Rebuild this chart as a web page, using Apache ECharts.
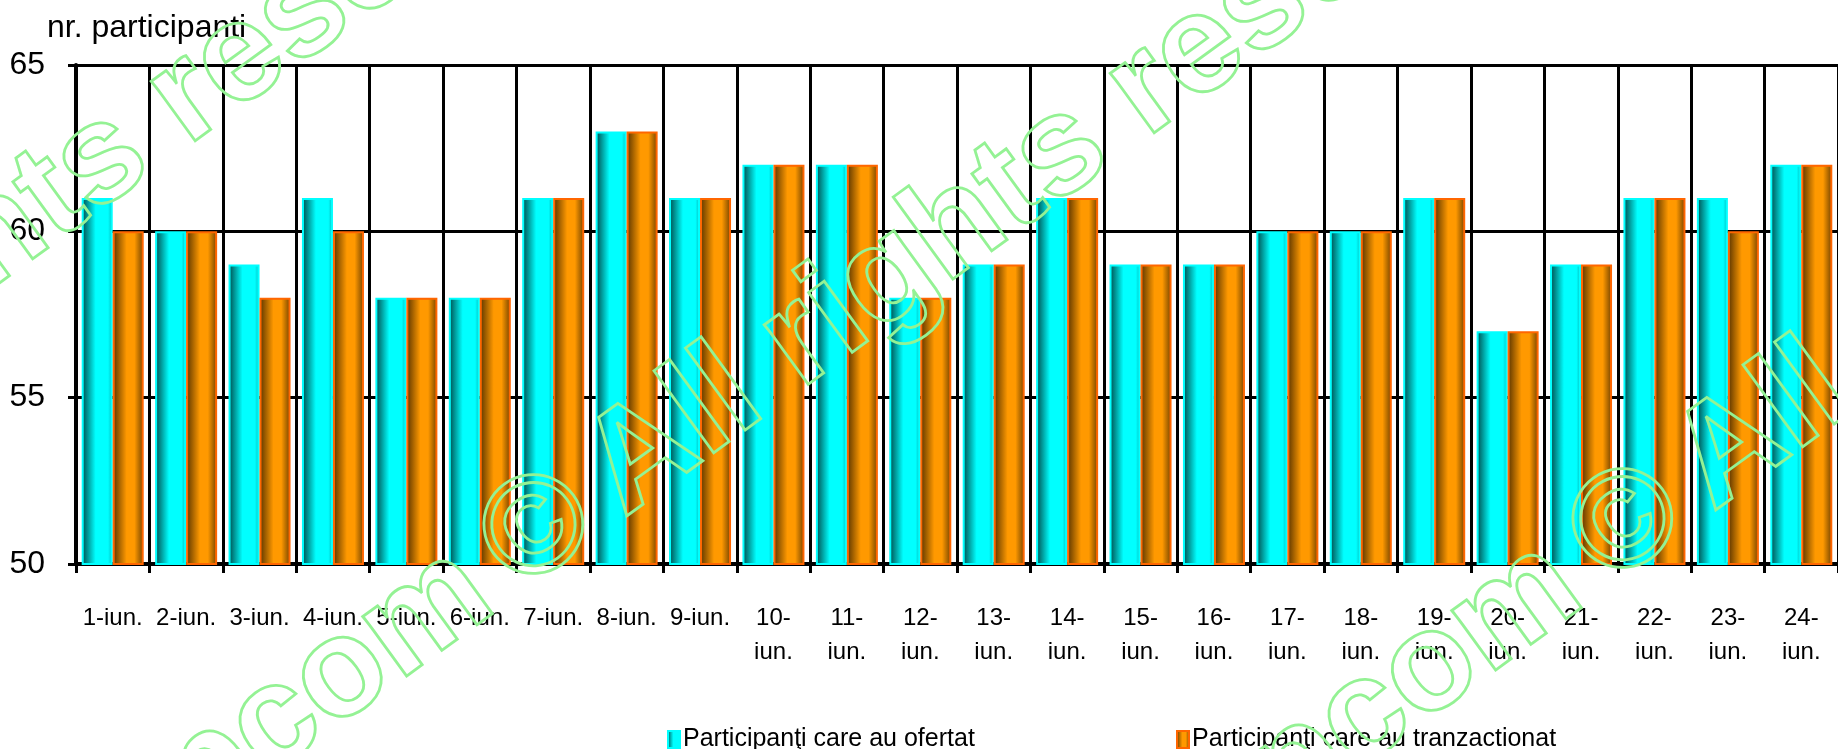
<!DOCTYPE html>
<html>
<head>
<meta charset="utf-8">
<script src="https://cdn.jsdelivr.net/npm/echarts@6/dist/echarts.min.js"></script>
<style>
html,body{margin:0;padding:0;background:#fff;}
#chart{width:1838px;height:749px;}
</style>
</head>
<body>
<div id="chart"></div>
<script>
const categories = ['1-iun.','2-iun.','3-iun.','4-iun.','5-iun.','6-iun.','7-iun.','8-iun.','9-iun.','10-iun.','11-iun.','12-iun.','13-iun.','14-iun.','15-iun.','16-iun.','17-iun.','18-iun.','19-iun.','20-iun.','21-iun.','22-iun.','23-iun.','24-iun.'];
const ofertat =      [61,60,59,61,58,58,61,63,61,62,62,58,59,61,59,59,60,60,61,57,59,61,61,62];
const tranzactionat = [60,60,58,60,58,58,61,63,61,62,62,58,59,61,59,59,60,60,61,57,59,61,60,62];
const yTicks = [50,55,60,65];
const seriesNames = ['Participanţi care au ofertat','Participanţi care au tranzactionat'];
const axisTitle = 'nr. participanti';
const watermark = ['opcom', '©', 'All rights reserved'];

const regular = '"Liberation Sans",Arial,sans-serif';

const cyanGrad = new echarts.graphic.LinearGradient(0,0,1,0,[
  {offset:0,color:'#00E5E5'},
  {offset:0.06,color:'#006060'},
  {offset:0.45,color:'#00FFFF'},
  {offset:0.85,color:'#00FFFF'},
  {offset:1,color:'#00BABA'}
]);
const orangeGrad = new echarts.graphic.LinearGradient(0,0,1,0,[
  {offset:0,color:'#573300'},
  {offset:0.45,color:'#FF9900'},
  {offset:0.7,color:'#FF9900'},
  {offset:1,color:'#704100'}
]);

function wmGroup(cx, cy){
  const F = 140;
  const st = function(t, align){ return {text:t, font:'bold '+F+'px '+regular, fill:'none', stroke:'#94F294', lineWidth:2.8, textAlign:align, textVerticalAlign:'middle'}; };
  return {
    type:'group', x:cx, y:cy, rotation: 36*Math.PI/180, z:100, silent:true,
    children:[
      {type:'text', z:100, x:-0.55*F, y:0, style:st(watermark[0],'right')},
      {type:'text', z:100, x:0, y:0, style:st(watermark[1],'center')},
      {type:'text', z:100, x:0.55*F, y:0, style:st(watermark[2],'left')}
    ]
  };
}

const chart = echarts.init(document.getElementById('chart'), null, {renderer:'canvas'});
chart.setOption({
  animation:false,
  backgroundColor:'#fff',
  legend:[
    {data:[seriesNames[0]], left:662, top:722, itemWidth:12, itemHeight:17, icon:'rect', itemGap:0,
     textStyle:{fontFamily:regular, fontSize:25, color:'#000', padding:[0,0,0,-2]}},
    {data:[seriesNames[1]], left:1171, top:722, itemWidth:12, itemHeight:17, icon:'rect', itemGap:0,
     textStyle:{fontFamily:regular, fontSize:25, color:'#000', padding:[0,0,0,-2]}}
  ],
  grid:{left:76, right:-15, top:65, bottom:185, containLabel:false},
  xAxis:{
    type:'category', data:categories, boundaryGap:true,
    axisLine:{lineStyle:{color:'#000', width:4}},
    axisTick:{show:true, length:9, lineStyle:{color:'#000', width:3}},
    splitLine:{show:true, lineStyle:{color:'#000', width:3}},
    axisLabel:{interval:0, margin:37, fontFamily:regular, fontSize:24, lineHeight:34, color:'#000',
      formatter:function(v){ return v.length > 6 ? v.replace('-', '-\n') : v; }}
  },
  yAxis:{
    type:'value', min:yTicks[0], max:yTicks[yTicks.length-1], interval:yTicks[1]-yTicks[0],
    axisLine:{show:true, lineStyle:{color:'#000', width:4}},
    axisTick:{show:true, length:8, lineStyle:{color:'#000', width:3}},
    splitLine:{show:true, lineStyle:{color:'#000', width:3}},
    axisLabel:{margin:31, fontFamily:regular, fontSize:32, color:'#000'}
  },
  series:[
    {name:seriesNames[0], type:'bar', data:ofertat, barWidth:31, barGap:'0%',
     itemStyle:{color:cyanGrad, borderColor:'#00FFFF', borderWidth:2}},
    {name:seriesNames[1], type:'bar', data:tranzactionat, barWidth:31,
     itemStyle:{color:orangeGrad, borderColor:'#FF6600', borderWidth:2}}
  ],
  graphic:[
    {type:'text', x:47, y:28, z:50, silent:true, style:{text:axisTitle, font:'32px '+regular, fill:'#000', textAlign:'left', textVerticalAlign:'middle'}},
    wmGroup(539, 532), wmGroup(1628, 526), wmGroup(-420, 540)
  ]
});
</script>
</body>
</html>
